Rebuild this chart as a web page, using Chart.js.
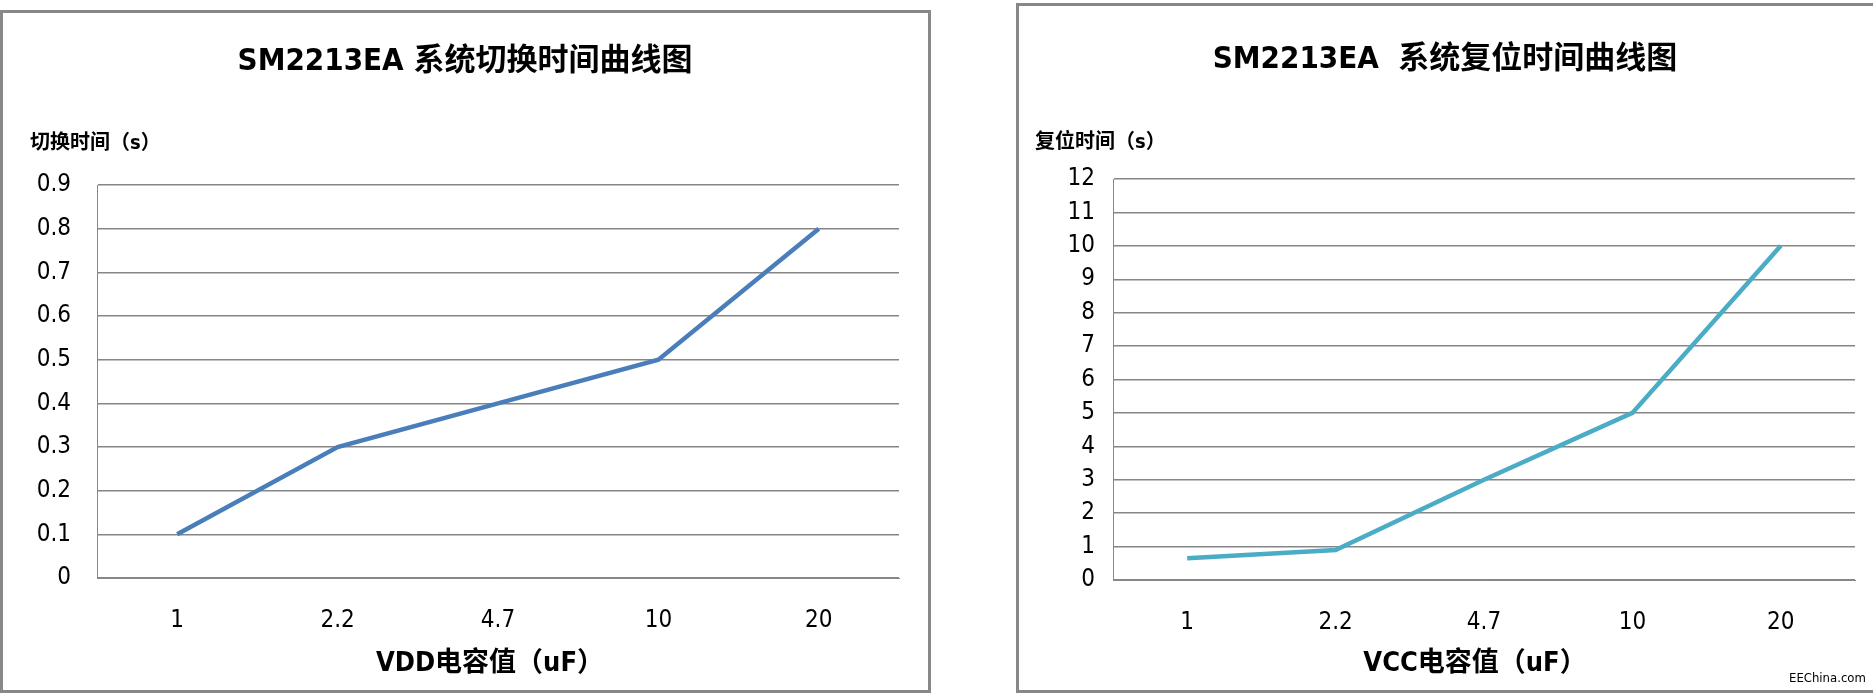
<!DOCTYPE html>
<html>
<head>
<meta charset="utf-8">
<script src="https://cdn.jsdelivr.net/npm/chart.js@4/dist/chart.umd.min.js"></script>
<style>
  body { margin: 0; width: 1873px; height: 693px; background: #fff; position: relative; overflow: hidden;
         font-family: "DejaVu Sans Condensed", "Noto Sans CJK SC", sans-serif; }
  .panel { position: absolute; border: 3px solid #888; box-sizing: border-box; }
  .panel canvas { position: absolute; left: 0; top: 0; }
  .t { position: absolute; font-weight: bold; color: #000; white-space: nowrap; }
  .title { font-size: 31px; transform: translateX(-50%); }
  .ytitle { font-size: 20px; }
  .xtitle { font-size: 27px; transform: translateX(-50%); }
  .mark { position: absolute; font-size: 13px; color: #000; }
</style>
</head>
<body>
<div class="panel" id="p1" style="left:0;top:10px;width:931px;height:683px;">
  <canvas id="c1"></canvas>
</div>
<div class="panel" id="p2" style="left:1016px;top:3px;width:860px;height:690px;">
  <canvas id="c2"></canvas>
</div>
<div class="t title" style="left:465px;top:34px;">SM2213EA 系统切换时间曲线图</div>
<div class="t ytitle" style="left:30px;top:126px;">切换时间（s）</div>
<div class="t xtitle" style="left:490px;top:640px;">VDD电容值（uF）</div>
<div class="t title" style="left:1445px;top:32px;">SM2213EA&nbsp; 系统复位时间曲线图</div>
<div class="t ytitle" style="left:1035px;top:125px;">复位时间（s）</div>
<div class="t xtitle" style="left:1475px;top:640px;">VCC电容值（uF）</div>
<div class="mark" style="left:1789px;top:670px;">EEChina.com</div>
<script>
const categories = ['1', '2.2', '4.7', '10', '20'];
const switchTimes = [0.1, 0.3, 0.4, 0.5, 0.8];
const resetTimes = [0.65, 0.9, 3.0, 5.0, 10.0];

function makeChart(id, w, h, values, color, yMax, yStep, pad, yWidth, yPad) {
  const cv = document.getElementById(id);
  cv.width = w; cv.height = h;
  cv.style.width = w + 'px'; cv.style.height = h + 'px';
  return new Chart(cv, {
    type: 'line',
    data: {
      labels: categories,
      datasets: [{ data: values, borderColor: color, borderWidth: 4.5, pointRadius: 0, tension: 0, fill: false }]
    },
    options: {
      responsive: false,
      animation: false,
      layout: { padding: pad },
      plugins: { legend: { display: false }, tooltip: { enabled: false } },
      scales: {
        x: {
          offset: true,
          grid: { display: false, drawTicks: false },
          border: { display: true, color: '#888', width: 1 },
          ticks: { color: '#000', padding: 28, font: { size: 24, family: 'DejaVu Sans Condensed' } },
          afterFit(s) { s.height = 100; }
        },
        y: {
          min: 0, max: yMax,
          grid: { color: '#868686', lineWidth: 1.5, drawTicks: false },
          border: { display: true, color: '#888', width: 1 },
          ticks: { stepSize: yStep, color: '#000', padding: yPad, font: { size: 24, family: 'DejaVu Sans Condensed' } },
          afterFit(s) { s.width = yWidth; }
        }
      }
    }
  });
}

makeChart('c1', 925, 677, switchTimes, '#4a7ebb', 0.9, 0.1,
  { left: 0, right: 29, top: 172, bottom: 12 }, 94, 26);
makeChart('c2', 854, 684, resetTimes, '#4bacc6', 12, 1,
  { left: 0, right: 18, top: 173, bottom: 10 }, 94, 18);
</script>
</body>
</html>
